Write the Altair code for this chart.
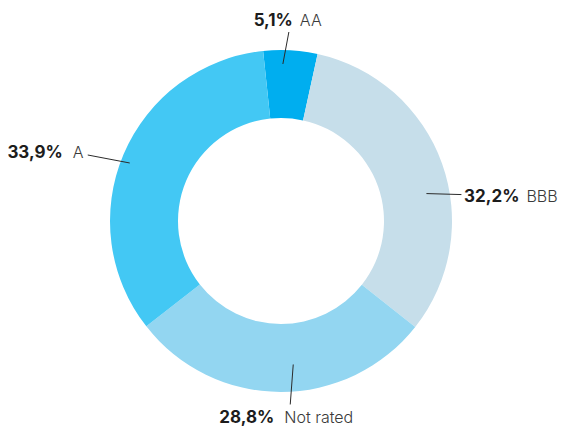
import math
import pandas as pd
import altair as alt

# ---- data ----
categories = ["AA", "BBB", "Not rated", "A"]
shares = [5.1, 32.2, 28.8, 33.9]
share_labels = ["5,1%", "32,2%", "28,8%", "33,9%"]
colors = ["#00AEEF", "#C6DEEA", "#93D6F1", "#43C8F4"]

# ---- layout ----
W, H = 556, 418
CX, CY = 273, 213
R_OUT, R_IN = 171, 103
START_DEG = -6.0
angle_nudge = {"AA": -2.5, "BBB": 9, "Not rated": -5, "A": -2}
anchor_r = {"AA": 157, "BBB": 148, "Not rated": 144, "A": 162}
leader = {"AA": (6, -32), "BBB": (35, 1), "Not rated": (-3, 40), "A": (-42, -8)}
# (number right edge dx, label left dx, baseline dy) relative to leader end
text_off = {"AA": (4, 11, -6), "BBB": (58, 65, 7), "Not rated": (-16, -6, 19), "A": (-25, -15, 3)}

total = sum(shares)
rows = []
cum = 0.0
for i, (c, v) in enumerate(zip(categories, shares)):
    mid = START_DEG + (cum + v / 2) / total * 360 + angle_nudge[c]
    cum += v
    a = math.radians(mid)
    sx = CX + anchor_r[c] * math.sin(a)
    sy = CY - anchor_r[c] * math.cos(a)
    dx, dy = leader[c]
    ex, ey = sx + dx, sy + dy
    nx, lx, by = text_off[c]
    rows.append(dict(cat=c, value=v, pct=share_labels[i], order=i,
                     sx=sx, sy=sy, ex=ex, ey=ey,
                     nx=ex + nx, lx=ex + lx, by=ey + by))
df = pd.DataFrame(rows)

start = math.radians(START_DEG) + 2 * math.pi
xs = alt.Scale(domain=[0, W], range=[0, W], nice=False, zero=False)
ys = alt.Scale(domain=[0, H], range=[0, H], nice=False, zero=False)

base = alt.Chart(df)

arc = base.mark_arc(innerRadius=R_IN, outerRadius=R_OUT).encode(
    theta=alt.Theta("value:Q", stack=True, scale=alt.Scale(range=[start, start + 2 * math.pi])),
    color=alt.Color("cat:N", scale=alt.Scale(domain=categories, range=colors), legend=None),
    order=alt.Order("order:Q"),
    x=alt.value(CX), y=alt.value(CY),
)

rules = base.mark_rule(color="#2b2b2b", strokeWidth=1).encode(
    x=alt.X("sx:Q", scale=xs, axis=None), y=alt.Y("sy:Q", scale=ys, axis=None),
    x2="ex:Q", y2="ey:Q",
)

nums = base.mark_text(align="right", baseline="alphabetic", font="Inter",
                      fontWeight="bold", fontSize=17, color="#1c1c1c").encode(
    x=alt.X("nx:Q", scale=xs, axis=None), y=alt.Y("by:Q", scale=ys, axis=None),
    text="pct:N",
)

labs = base.mark_text(align="left", baseline="alphabetic", font="Inter",
                      fontWeight=300, fontSize=16, color="#3a3a3a").encode(
    x=alt.X("lx:Q", scale=xs, axis=None), y=alt.Y("by:Q", scale=ys, axis=None),
    text="cat:N",
)

chart = alt.layer(arc, rules, nums, labs).properties(
    width=W, height=H, padding=0, autosize="none"
).configure_view(stroke=None)

chart.save("out.html", embed_options={"renderer": "svg", "actions": False})
